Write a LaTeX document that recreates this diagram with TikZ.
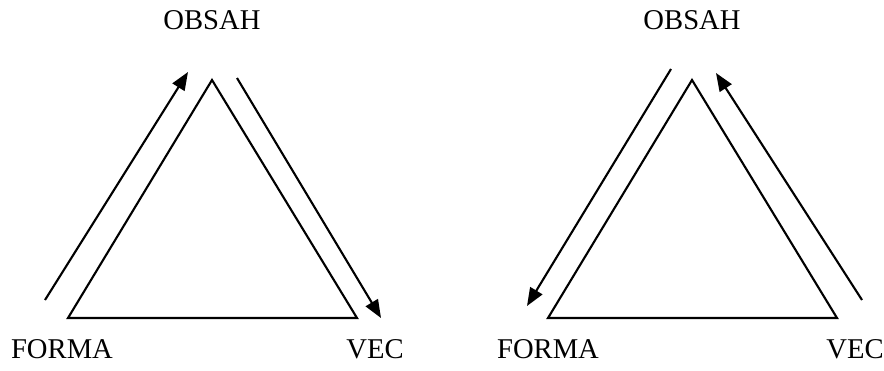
\documentclass[tikz,border=0pt]{standalone}
\usepackage{fontspec}
\setmainfont{Liberation Serif}
\usetikzlibrary{arrows.meta}
\begin{document}
\begin{tikzpicture}[x=0.02cm,y=-0.02cm,
  ln/.style={line width=1.2pt},
  arr/.style={ln,-{Triangle[length=0.36cm,width=0.28cm]}},
  lbl/.style={anchor=base,inner sep=0pt,font=\fontsize{16.3}{18}\selectfont}]
\useasboundingbox (0,0) rectangle (884,371);
% left diagram
\coordinate (A1) at (212,80);
\coordinate (B1) at (68,318);
\coordinate (C1) at (357,318);
\draw[ln,line join=miter] (A1) -- (B1) -- (C1) -- cycle;
\coordinate (p1s) at (45,300);
\coordinate (p1e) at (188,72);
\coordinate (q1s) at (237,78);
\coordinate (q1e) at (381,318);
\draw[arr] (p1s) -- (p1e);
\draw[arr] (q1s) -- (q1e);
\node[lbl] (o1) at (212,30) {OBSAH};
\node[lbl] (f1) at (62,358) {FORMA};
\node[lbl] (v1) at (375,358) {VEC};
% right diagram
\coordinate (A2) at (692,80);
\coordinate (B2) at (548,318);
\coordinate (C2) at (837,318);
\draw[ln,line join=miter] (A2) -- (B2) -- (C2) -- cycle;
\coordinate (p2s) at (671,69);
\coordinate (p2e) at (527,306);
\coordinate (q2s) at (862,300);
\coordinate (q2e) at (716,73);
\draw[arr] (p2s) -- (p2e);
\draw[arr] (q2s) -- (q2e);
\node[lbl] (o2) at (692,30) {OBSAH};
\node[lbl] (f2) at (548,358) {FORMA};
\node[lbl] (v2) at (855,358) {VEC};
\end{tikzpicture}
\end{document}
